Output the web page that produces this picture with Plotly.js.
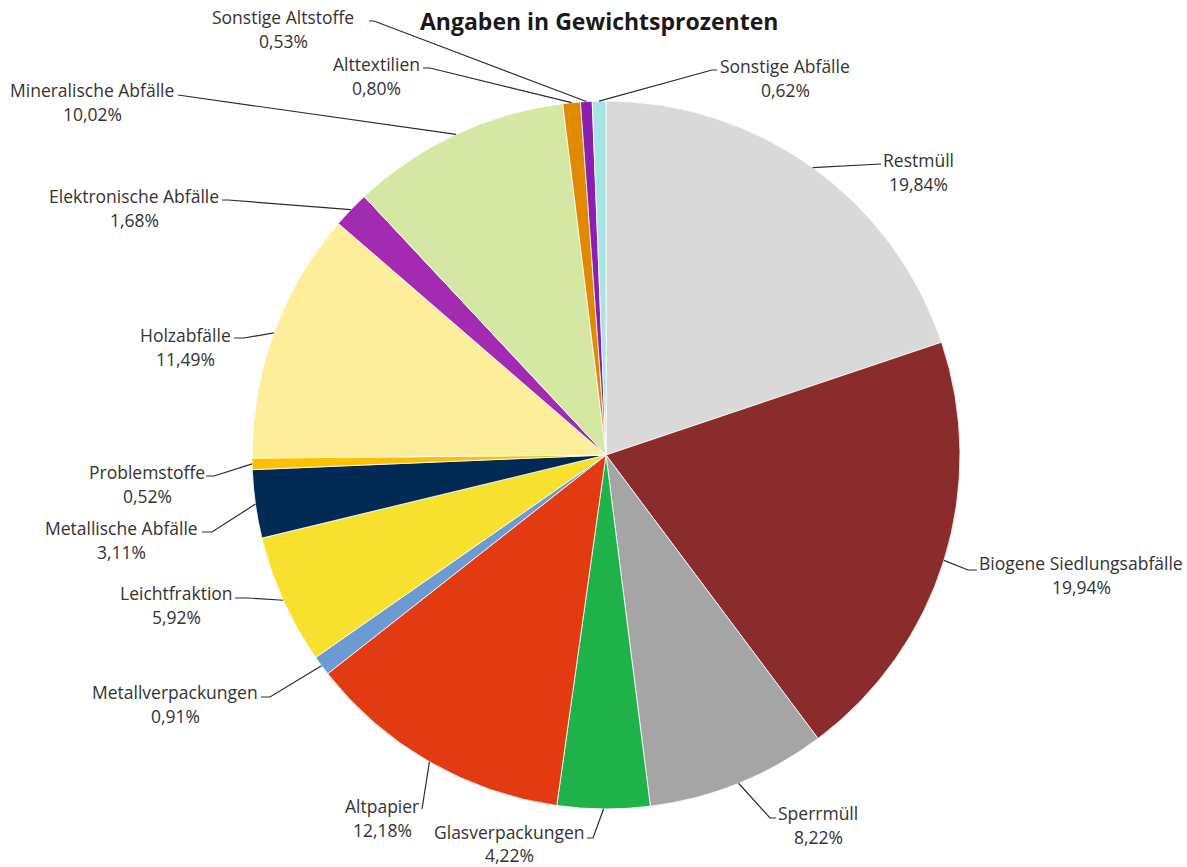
<!DOCTYPE html>
<html>
<head>
<meta charset="utf-8">
<script src="https://cdn.plot.ly/plotly-3.0.1.min.js"></script>
<style>html,body{margin:0;padding:0;background:#fff}#chart{width:1187px;height:867px}</style>
</head>
<body>
<div id="chart"></div>
<script>
// ---- data (clockwise from 12 o'clock) ----
const categories = [
  "Restmüll", "Biogene Siedlungsabfälle", "Sperrmüll", "Glasverpackungen",
  "Altpapier", "Metallverpackungen", "Leichtfraktion", "Metallische Abfälle",
  "Problemstoffe", "Holzabfälle", "Elektronische Abfälle", "Mineralische Abfälle",
  "Alttextilien", "Sonstige Altstoffe", "Sonstige Abfälle"
];
const shares = [19.84, 19.94, 8.22, 4.22, 12.18, 0.91, 5.92, 3.11, 0.52, 11.49, 1.68, 10.02, 0.80, 0.53, 0.62];
const sliceColors = [
  "#d9d9d9", "#8b2c2c", "#a5a5a5", "#20b24a", "#e23b12", "#6c9bd4", "#f7e02e", "#002a54",
  "#ffc000", "#fdee9b", "#a32bb1", "#d4e7a3", "#e18a00", "#8d1fae", "#a6e5e5"
];
const chartTitle = "Angaben in Gewichtsprozenten";

// ---- layout helpers (pixel geometry) ----
const W = 1187, H = 867;
const CX = 606, CY = 455, R = 354;
// label placement: text centre x, name line y, gap to percent line, line start (near text), elbow point
const labelPos = [
  {tx: 918, ty: 160, gap: 24, sx: 881, sy: 164, ex: 881, ey: 164},
  {tx: 1081, ty: 563, gap: 24, sx: 977, sy: 570, ex: 968, ey: 570},
  {tx: 818, ty: 813, gap: 24, sx: 776, sy: 818, ex: 770, ey: 818},
  {tx: 509, ty: 832, gap: 23, sx: 587, sy: 838, ex: 593, ey: 838},
  {tx: 382, ty: 806, gap: 24, sx: 422, sy: 809, ex: 422, ey: 809},
  {tx: 175, ty: 692, gap: 24, sx: 261, sy: 697, ex: 270, ey: 697},
  {tx: 176, ty: 593, gap: 24, sx: 235, sy: 598, ex: 248, ey: 598},
  {tx: 121, ty: 528, gap: 24, sx: 202, sy: 532, ex: 212, ey: 532},
  {tx: 147, ty: 472, gap: 24, sx: 206, sy: 476, ex: 214, ey: 476},
  {tx: 185, ty: 335, gap: 24, sx: 234, sy: 338, ex: 244, ey: 338},
  {tx: 134, ty: 196, gap: 24, sx: 222, sy: 200, ex: 228, ey: 200},
  {tx: 92, ty: 90, gap: 24, sx: 178, sy: 95, ex: 185, ey: 96},
  {tx: 376, ty: 64, gap: 24, sx: 423, sy: 68, ex: 430, ey: 68},
  {tx: 283, ty: 17, gap: 24, sx: 369, sy: 21, ex: 374, ey: 21},
  {tx: 785, ty: 66, gap: 24, sx: 717, sy: 70, ex: 712, ey: 70}
];

const px = x => x / W;
const py = y => 1 - y / H;
const total = shares.reduce((a, b) => a + b, 0);
const fmt = v => v.toFixed(2).replace('.', ',') + '%';
const labelFont = {family: 'Open Sans, sans-serif', size: 17.5, color: '#333333'};

const annotations = [{
  text: "<b>" + chartTitle + "</b>", xref: 'paper', yref: 'paper',
  x: px(599), y: py(21), xanchor: 'center', yanchor: 'middle', showarrow: false,
  font: {family: 'Open Sans, sans-serif', size: 23, color: '#1a1a1a'}
}];
const shapes = [];
let cum = 0;
categories.forEach((name, i) => {
  const mid = (cum + shares[i] / 2) / total;
  cum += shares[i];
  const ang = mid * 2 * Math.PI;
  const axp = CX + R * Math.sin(ang), ayp = CY - R * Math.cos(ang);
  const p = labelPos[i];
  annotations.push({
    text: name, xref: 'paper', yref: 'paper', x: px(p.tx), y: py(p.ty),
    xanchor: 'center', yanchor: 'middle', showarrow: false, font: labelFont, borderpad: 0
  });
  annotations.push({
    text: fmt(shares[i]), xref: 'paper', yref: 'paper', x: px(p.tx), y: py(p.ty + p.gap),
    xanchor: 'center', yanchor: 'middle', showarrow: false, font: labelFont, borderpad: 0
  });
  shapes.push({
    type: 'path', xref: 'paper', yref: 'paper',
    path: `M ${px(p.sx)} ${py(p.sy)} L ${px(p.ex)} ${py(p.ey)} L ${px(axp)} ${py(ayp)}`,
    line: {color: '#2b2b2b', width: 1.2}
  });
});

const trace = {
  type: 'pie', labels: categories, values: shares, sort: false,
  direction: 'clockwise', rotation: 0,
  marker: {colors: sliceColors, line: {color: '#ffffff', width: 0.8}},
  textinfo: 'none', hoverinfo: 'label+percent', showlegend: false,
  domain: {x: [px(CX - R), px(CX + R)], y: [py(CY + R), py(CY - R)]}
};

Plotly.newPlot('chart', [trace], {
  width: W, height: H, margin: {l: 0, r: 0, t: 0, b: 0},
  paper_bgcolor: '#ffffff', showlegend: false,
  annotations: annotations, shapes: shapes
}, {staticPlot: true});
</script>
</body>
</html>
